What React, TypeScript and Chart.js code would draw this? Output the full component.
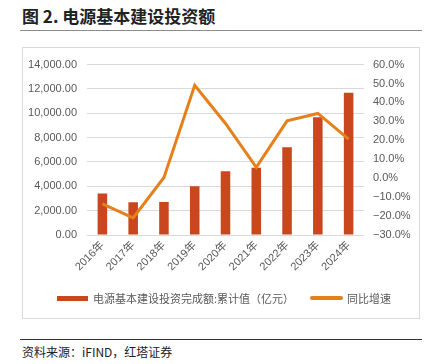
import React, { useEffect, useRef } from "react";
import { Chart, registerables } from "chart.js";

Chart.register(...registerables);

const categories = ["2016年", "2017年", "2018年", "2019年", "2020年", "2021年", "2022年", "2023年", "2024年"];
const investment = [3400, 2700, 2720, 4000, 5240, 5530, 7210, 9680, 11690];
const growth = [-13.6, -21.0, 0.4, 49.1, 28.9, 5.7, 30.3, 34.2, 20.6];
const barLabel = "电源基本建设投资完成额:累计值（亿元）";
const lineLabel = "同比增速";

const BAR_COLOR = "#C9461F";
const LINE_COLOR = "#E5801A";
const TEXT_COLOR = "#595959";
const FONT = '"Liberation Sans", "Noto Sans CJK SC", sans-serif';

export default function App() {
  const canvasRef = useRef<HTMLCanvasElement | null>(null);

  useEffect(() => {
    document.body.style.margin = "0";
    const ctx = canvasRef.current!;
    const chart = new Chart(ctx, {
      type: "bar",
      data: {
        labels: categories,
        datasets: [
          {
            type: "line",
            label: lineLabel,
            data: growth,
            yAxisID: "y1",
            borderColor: LINE_COLOR,
            backgroundColor: LINE_COLOR,
            borderWidth: 3,
            pointRadius: 0,
            tension: 0,
            order: 0,
          },
          {
            type: "bar",
            label: barLabel,
            data: investment,
            yAxisID: "y",
            backgroundColor: BAR_COLOR,
            barPercentage: 0.31,
            categoryPercentage: 1,
            order: 1,
          },
        ],
      },
      options: {
        animation: false,
        responsive: true,
        maintainAspectRatio: false,
        layout: { padding: { top: 16, left: 0, right: 0, bottom: 0 } },
        plugins: {
          legend: { display: false },
          tooltip: { enabled: false },
        },
        scales: {
          x: {
            grid: { display: false, drawTicks: false },
            border: { display: false },
            ticks: {
              color: TEXT_COLOR,
              font: { family: FONT, size: 11 },
              minRotation: 45,
              maxRotation: 45,
              padding: 4,
            },
            afterFit: (s: any) => {
              s.height = 83;
            },
          },
          y: {
            position: "left",
            min: 0,
            max: 14000,
            ticks: {
              stepSize: 2000,
              color: TEXT_COLOR,
              font: { family: FONT, size: 11 },
              padding: 10,
              callback: (v: any) =>
                Number(v).toLocaleString("en-US", { minimumFractionDigits: 2, maximumFractionDigits: 2 }),
            },
            grid: { color: "#D9D9D9", lineWidth: 1, drawTicks: false },
            border: { display: false },
            afterFit: (s: any) => {
              s.width = 64;
            },
          },
          y1: {
            position: "right",
            min: -30,
            max: 60,
            ticks: {
              stepSize: 10,
              color: TEXT_COLOR,
              font: { family: FONT, size: 11 },
              padding: 9,
              callback: (v: any) => {
                const n = Number(v);
                const s = Math.abs(n).toFixed(1) + "%";
                return n < 0 ? "\u2212" + s : s;
              },
            },
            grid: { display: false, drawTicks: false },
            border: { display: false },
            afterFit: (s: any) => {
              s.width = 55;
            },
          },
        },
      },
    });
    return () => chart.destroy();
  }, []);

  return (
    <div style={{ position: "relative", width: 430, height: 364, background: "#fff", fontFamily: FONT }}>
      <div
        style={{
          position: "absolute",
          left: 22,
          top: 5,
          fontSize: 17,
          fontWeight: "bold",
          color: "#222",
          fontFamily: '"Noto Sans CJK SC", "Liberation Sans", sans-serif',
          lineHeight: "22px",
          whiteSpace: "nowrap",
        }}
      >
        图 2. 电源基本建设投资额
      </div>
      <div style={{ position: "absolute", left: 20, top: 30, width: 402, height: 1, background: "#8C8C8C" }} />
      <div
        style={{
          position: "absolute",
          left: 22,
          top: 47,
          width: 396,
          height: 270,
          border: "1px solid #D9D9D9",
        }}
      >
        <div style={{ position: "absolute", left: 0, top: 0, width: 396, height: 270 }}>
          <canvas ref={canvasRef} />
        </div>
        <div
          style={{
            position: "absolute",
            left: 34,
            top: 243,
            height: 14,
            display: "flex",
            alignItems: "center",
            fontSize: 11,
            color: TEXT_COLOR,
            whiteSpace: "nowrap",
            fontFamily: '"Noto Sans CJK SC", sans-serif',
          }}
        >
          <span style={{ display: "inline-block", width: 31, height: 5, background: BAR_COLOR, marginRight: 5 }} />
          <span>{barLabel}</span>
          <span
            style={{
              display: "inline-block",
              width: 33,
              height: 4,
              borderRadius: 2,
              background: LINE_COLOR,
              marginLeft: 16,
              marginRight: 4,
            }}
          />
          <span>{lineLabel}</span>
        </div>
      </div>
      <div style={{ position: "absolute", left: 20, top: 339, width: 402, height: 1, background: "#333" }} />
      <div
        style={{
          position: "absolute",
          left: 22,
          top: 344,
          fontSize: 12,
          color: "#222",
          lineHeight: "16px",
          whiteSpace: "nowrap",
          fontFamily: '"Noto Sans CJK SC", "Liberation Sans", sans-serif',
        }}
      >
        资料来源：iFIND，红塔证券
      </div>
    </div>
  );
}
